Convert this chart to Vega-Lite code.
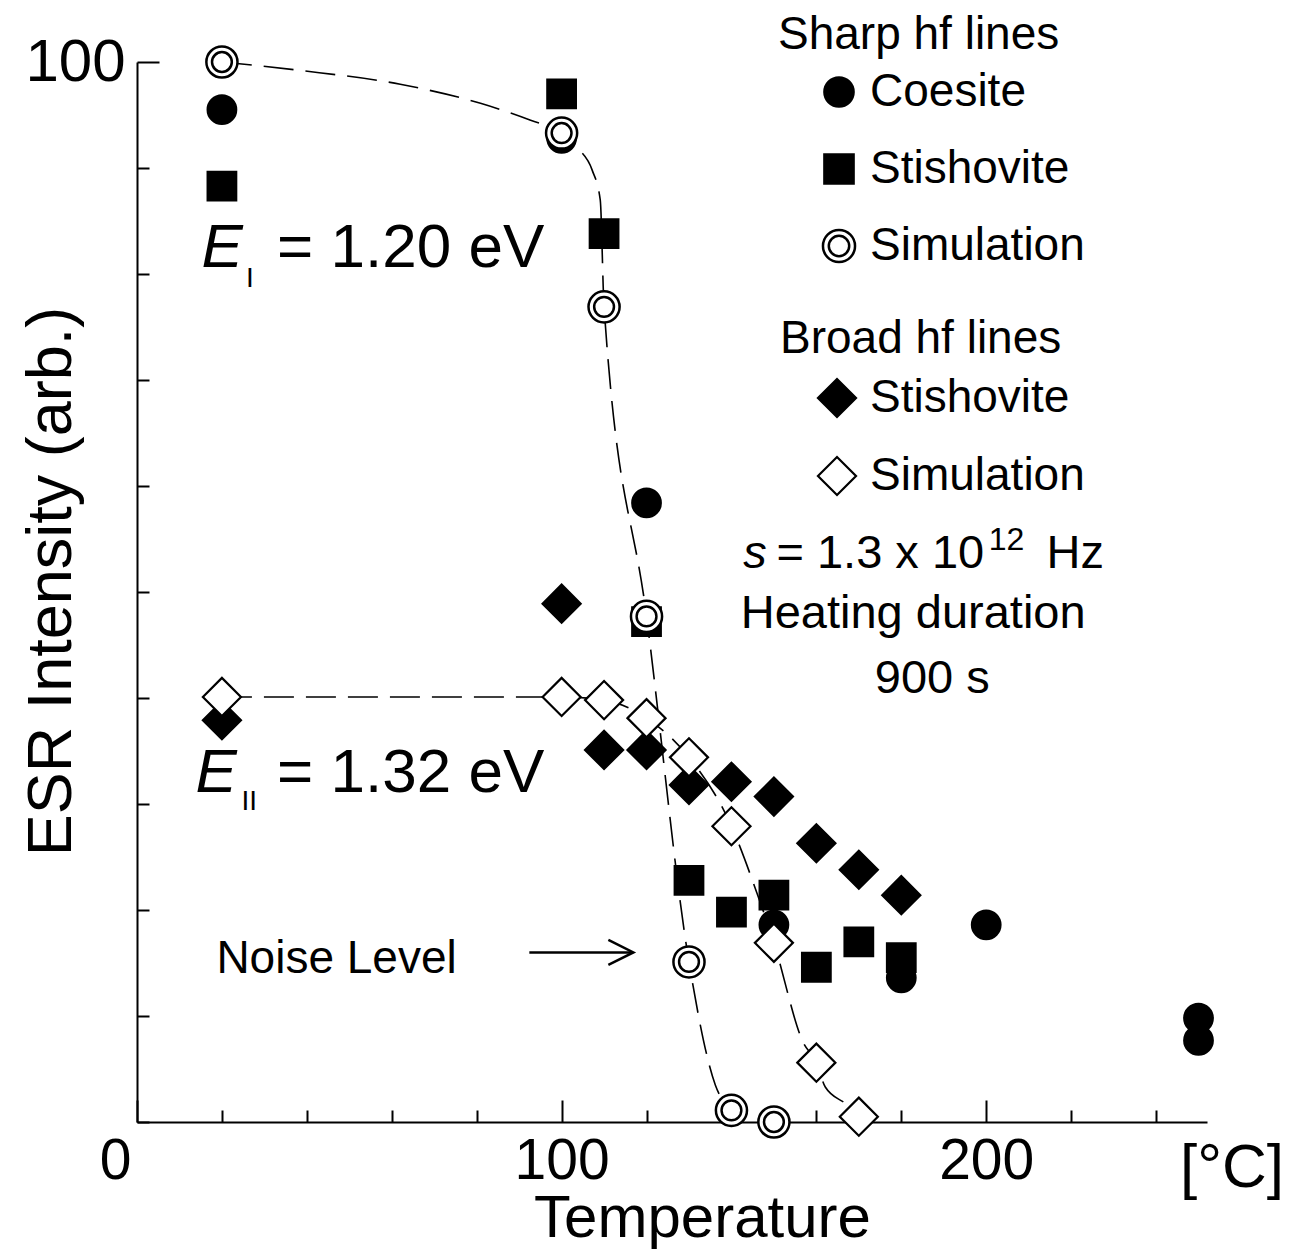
{
  "$schema": "https://vega.github.io/schema/vega-lite/v6.json",
  "width": 1070,
  "height": 1060,
  "autosize": {"type": "none"},
  "padding": {"left": 137, "top": 62, "right": 83, "bottom": 128},
  "background": "white",
  "config": {"view": {"stroke": null}, "font": "Liberation Sans"},
  "datasets": {
    "esr": [
      {"group": "Sharp", "type": "Coesite", "temp": 20, "esr": 95.5},
      {"group": "Sharp", "type": "Coesite", "temp": 100, "esr": 92.8},
      {"group": "Sharp", "type": "Coesite", "temp": 120, "esr": 58.4},
      {"group": "Sharp", "type": "Coesite", "temp": 150, "esr": 18.6},
      {"group": "Sharp", "type": "Coesite", "temp": 180, "esr": 13.6},
      {"group": "Sharp", "type": "Coesite", "temp": 200, "esr": 18.6},
      {"group": "Sharp", "type": "Coesite", "temp": 250, "esr": 9.8},
      {"group": "Sharp", "type": "Coesite", "temp": 250, "esr": 7.7},
      {"group": "Sharp", "type": "Stishovite", "temp": 20, "esr": 88.3},
      {"group": "Sharp", "type": "Stishovite", "temp": 100, "esr": 97.0},
      {"group": "Sharp", "type": "Stishovite", "temp": 110, "esr": 83.8},
      {"group": "Sharp", "type": "Stishovite", "temp": 120, "esr": 47.2},
      {"group": "Sharp", "type": "Stishovite", "temp": 130, "esr": 22.8},
      {"group": "Sharp", "type": "Stishovite", "temp": 140, "esr": 19.8},
      {"group": "Sharp", "type": "Stishovite", "temp": 150, "esr": 21.4},
      {"group": "Sharp", "type": "Stishovite", "temp": 160, "esr": 14.6},
      {"group": "Sharp", "type": "Stishovite", "temp": 170, "esr": 17.0},
      {"group": "Sharp", "type": "Stishovite", "temp": 180, "esr": 15.5},
      {"group": "Sharp", "type": "Simulation", "temp": 20, "esr": 100},
      {"group": "Sharp", "type": "Simulation", "temp": 100, "esr": 93.3},
      {"group": "Sharp", "type": "Simulation", "temp": 110, "esr": 76.9},
      {"group": "Sharp", "type": "Simulation", "temp": 120, "esr": 47.7},
      {"group": "Sharp", "type": "Simulation", "temp": 130, "esr": 15.1},
      {"group": "Sharp", "type": "Simulation", "temp": 140, "esr": 1.1},
      {"group": "Sharp", "type": "Simulation", "temp": 150, "esr": 0},
      {"group": "Broad", "type": "Stishovite", "temp": 20, "esr": 37.9},
      {"group": "Broad", "type": "Stishovite", "temp": 100, "esr": 48.9},
      {"group": "Broad", "type": "Stishovite", "temp": 110, "esr": 35.1},
      {"group": "Broad", "type": "Stishovite", "temp": 120, "esr": 35.1},
      {"group": "Broad", "type": "Stishovite", "temp": 130, "esr": 31.8},
      {"group": "Broad", "type": "Stishovite", "temp": 140, "esr": 32.1},
      {"group": "Broad", "type": "Stishovite", "temp": 150, "esr": 30.7},
      {"group": "Broad", "type": "Stishovite", "temp": 160, "esr": 26.3},
      {"group": "Broad", "type": "Stishovite", "temp": 170, "esr": 23.8},
      {"group": "Broad", "type": "Stishovite", "temp": 180, "esr": 21.4},
      {"group": "Broad", "type": "Simulation", "temp": 20, "esr": 40.1},
      {"group": "Broad", "type": "Simulation", "temp": 100, "esr": 40.1},
      {"group": "Broad", "type": "Simulation", "temp": 110, "esr": 39.8},
      {"group": "Broad", "type": "Simulation", "temp": 120, "esr": 38.1},
      {"group": "Broad", "type": "Simulation", "temp": 130, "esr": 34.4},
      {"group": "Broad", "type": "Simulation", "temp": 140, "esr": 27.9},
      {"group": "Broad", "type": "Simulation", "temp": 150, "esr": 16.9},
      {"group": "Broad", "type": "Simulation", "temp": 160, "esr": 5.6},
      {"group": "Broad", "type": "Simulation", "temp": 170, "esr": 0.5}
    ],
    "sharpCurve": [
      {"temp": 20, "esr": 100},
      {"temp": 38.5, "esr": 99.2},
      {"temp": 62, "esr": 97.9},
      {"temp": 80.9, "esr": 96.1},
      {"temp": 92.7, "esr": 94.5},
      {"temp": 100, "esr": 93.3},
      {"temp": 104, "esr": 91.8},
      {"temp": 107.2, "esr": 89.8},
      {"temp": 109.1, "esr": 87.0},
      {"temp": 110, "esr": 76.9},
      {"temp": 120, "esr": 47.7},
      {"temp": 130, "esr": 15.1},
      {"temp": 136.2, "esr": 3.5},
      {"temp": 140, "esr": 1.1}
    ],
    "broadCurve": [
      {"temp": 20, "esr": 40.1},
      {"temp": 100, "esr": 40.1},
      {"temp": 110, "esr": 39.8},
      {"temp": 120, "esr": 38.1},
      {"temp": 130, "esr": 34.4},
      {"temp": 140, "esr": 27.9},
      {"temp": 146, "esr": 21.6},
      {"temp": 150, "esr": 16.9},
      {"temp": 156.9, "esr": 7.5},
      {"temp": 160, "esr": 5.6},
      {"temp": 162.1, "esr": 3.3},
      {"temp": 167.3, "esr": 1.6},
      {"temp": 170, "esr": 0.5}
    ]
  },
  "layer": [
    {
      "data": {"name": "sharpCurve"},
      "mark": {"type": "line", "interpolate": "monotone", "stroke": "black", "strokeWidth": 1.6, "strokeDash": [30, 12]},
      "encoding": {
        "x": {
          "field": "temp", "type": "quantitative",
          "scale": {"domain": [0, 252], "nice": false, "zero": false},
          "axis": {
            "title": "Temperature", "titleFont": "Liberation Sans", "titleFontSize": 60, "titleFontWeight": "normal", "titleColor": "black",
            "titleX": 565, "titleY": 114, "titleAlign": "center", "titleBaseline": "alphabetic", "titleAnchor": null,
            "values": [0, 20, 40, 60, 80, 100, 120, 140, 160, 180, 200, 220, 240],
            "labelExpr": "datum.value % 100 === 0 ? datum.label : ''",
            "labelFont": "Liberation Sans", "labelFontSize": 57, "labelColor": "black", "labelPadding": 33,
            "labelOffset": {"condition": {"test": "datum.value === 0", "value": -22}, "value": 0},
            "labelOverlap": false, "labelFlush": false, "labelBound": false,
            "tickSize": {"condition": {"test": "datum.value % 100 === 0", "value": -22}, "value": -12},
            "tickColor": "black", "tickWidth": 2, "domainColor": "black", "domainWidth": 2, "grid": false
          }
        },
        "y": {
          "field": "esr", "type": "quantitative",
          "scale": {"domain": [0, 100], "nice": false, "zero": false},
          "axis": {
            "title": "ESR Intensity (arb.)", "titleFont": "Liberation Sans", "titleFontSize": 63, "titleFontWeight": "normal", "titleColor": "black",
            "titleX": -67, "titleY": 519, "titleAlign": "center", "titleBaseline": "alphabetic", "titleAngle": -90, "titleAnchor": null,
            "values": [0, 10, 20, 30, 40, 50, 60, 70, 80, 90, 100],
            "labelExpr": "datum.value === 100 ? '100' : ''",
            "labelFont": "Liberation Sans", "labelFontSize": 60, "labelColor": "black", "labelPadding": 34,
            "labelOverlap": false, "labelFlush": false, "labelBound": false,
            "tickSize": {"condition": {"test": "datum.value === 100", "value": -22}, "value": -12},
            "tickColor": "black", "tickWidth": 2, "domainColor": "black", "domainWidth": 2, "grid": false
          }
        }
      }
    },
    {
      "data": {"name": "broadCurve"},
      "mark": {"type": "line", "interpolate": "monotone", "stroke": "black", "strokeWidth": 1.6, "strokeDash": [30, 12]},
      "encoding": {
        "x": {"field": "temp", "type": "quantitative"},
        "y": {"field": "esr", "type": "quantitative"}
      }
    },
    {
      "data": {"name": "esr"},
      "transform": [{"filter": "datum.group === 'Sharp'"}],
      "mark": {"type": "point", "size": 800, "strokeWidth": 2.5, "opacity": 1, "fillOpacity": 1, "strokeOpacity": 1},
      "encoding": {
        "x": {"field": "temp", "type": "quantitative"},
        "y": {"field": "esr", "type": "quantitative"},
        "shape": {
          "field": "type", "type": "nominal",
          "scale": {"domain": ["Coesite", "Stishovite", "Simulation"], "range": ["circle", "square", "M1.1,0A1.1,1.1,0,1,1,-1.1,0A1.1,1.1,0,1,1,1.1,0ZM0.7,0A0.7,0.7,0,1,1,-0.7,0A0.7,0.7,0,1,1,0.7,0Z"]},
          "legend": {
            "title": "Sharp hf lines", "orient": "none", "direction": "vertical", "legendX": 641, "legendY": -49, "padding": 0,
            "titleFont": "Liberation Sans", "titleFontSize": 46, "titleFontWeight": "normal", "titleColor": "black", "titlePadding": 10, "titleLimit": 800,
            "labelFont": "Liberation Sans", "labelFontSize": 46, "labelColor": "black", "labelLimit": 800,
            "symbolSize": 850, "symbolStrokeWidth": 2.5, "symbolStrokeColor": "black", "symbolOffset": 38, "labelOffset": 8, "rowPadding": 31
          }
        },
        "fill": {
          "field": "type", "type": "nominal",
          "scale": {"domain": ["Coesite", "Stishovite", "Simulation"], "range": ["black", "black", "white"]},
          "legend": {
            "title": "Sharp hf lines", "orient": "none", "direction": "vertical", "legendX": 641, "legendY": -49, "padding": 0,
            "titleFont": "Liberation Sans", "titleFontSize": 46, "titleFontWeight": "normal", "titleColor": "black", "titlePadding": 10, "titleLimit": 800,
            "labelFont": "Liberation Sans", "labelFontSize": 46, "labelColor": "black", "labelLimit": 800,
            "symbolSize": 850, "symbolStrokeWidth": 2.5, "symbolStrokeColor": "black", "symbolOffset": 38, "labelOffset": 8, "rowPadding": 31
          }
        },
        "stroke": {
          "field": "type", "type": "nominal",
          "scale": {"domain": ["Coesite", "Stishovite", "Simulation"], "range": ["black", "black", "black"]},
          "legend": {
            "title": "Sharp hf lines", "orient": "none", "direction": "vertical", "legendX": 641, "legendY": -49, "padding": 0,
            "titleFont": "Liberation Sans", "titleFontSize": 46, "titleFontWeight": "normal", "titleColor": "black", "titlePadding": 10, "titleLimit": 800,
            "labelFont": "Liberation Sans", "labelFontSize": 46, "labelColor": "black", "labelLimit": 800,
            "symbolSize": 850, "symbolStrokeWidth": 2.5, "symbolStrokeColor": "black", "symbolOffset": 38, "labelOffset": 8, "rowPadding": 31
          }
        }
      }
    },
    {
      "data": {"name": "esr"},
      "transform": [{"filter": "datum.group === 'Broad'"}],
      "mark": {"type": "point", "size": 1450, "strokeWidth": 2.2, "opacity": 1, "fillOpacity": 1, "strokeOpacity": 1},
      "encoding": {
        "x": {"field": "temp", "type": "quantitative"},
        "y": {"field": "esr", "type": "quantitative"},
        "shape": {
          "field": "type", "type": "nominal",
          "scale": {"domain": ["Stishovite", "Simulation"], "range": ["diamond", "diamond"]},
          "legend": {
            "title": "Broad hf lines", "orient": "none", "direction": "vertical", "legendX": 643, "legendY": 255, "padding": 0,
            "titleFont": "Liberation Sans", "titleFontSize": 46, "titleFontWeight": "normal", "titleColor": "black", "titlePadding": 12, "titleLimit": 800,
            "labelFont": "Liberation Sans", "labelFontSize": 46, "labelColor": "black", "labelLimit": 800,
            "symbolSize": 1450, "symbolStrokeWidth": 2.2, "symbolStrokeColor": "black", "symbolOffset": 34, "labelOffset": 10, "rowPadding": 30
          }
        },
        "fill": {
          "field": "type", "type": "nominal",
          "scale": {"domain": ["Stishovite", "Simulation"], "range": ["black", "white"]},
          "legend": {
            "title": "Broad hf lines", "orient": "none", "direction": "vertical", "legendX": 643, "legendY": 255, "padding": 0,
            "titleFont": "Liberation Sans", "titleFontSize": 46, "titleFontWeight": "normal", "titleColor": "black", "titlePadding": 12, "titleLimit": 800,
            "labelFont": "Liberation Sans", "labelFontSize": 46, "labelColor": "black", "labelLimit": 800,
            "symbolSize": 1450, "symbolStrokeWidth": 2.2, "symbolStrokeColor": "black", "symbolOffset": 34, "labelOffset": 10, "rowPadding": 30
          }
        },
        "stroke": {
          "field": "type", "type": "nominal",
          "scale": {"domain": ["Stishovite", "Simulation"], "range": ["black", "black"]},
          "legend": {
            "title": "Broad hf lines", "orient": "none", "direction": "vertical", "legendX": 643, "legendY": 255, "padding": 0,
            "titleFont": "Liberation Sans", "titleFontSize": 46, "titleFontWeight": "normal", "titleColor": "black", "titlePadding": 12, "titleLimit": 800,
            "labelFont": "Liberation Sans", "labelFontSize": 46, "labelColor": "black", "labelLimit": 800,
            "symbolSize": 1450, "symbolStrokeWidth": 2.2, "symbolStrokeColor": "black", "symbolOffset": 34, "labelOffset": 10, "rowPadding": 30
          }
        }
      }
    },
    {
      "data": {"values": [{"t": "E"}]},
      "mark": {"type": "text", "align": "left", "baseline": "alphabetic", "fontSize": 62, "fontStyle": "italic", "font": "Liberation Sans", "color": "black"},
      "encoding": {"x": {"datum": 15.2, "type": "quantitative"}, "y": {"datum": 80.7, "type": "quantitative"}, "text": {"field": "t"}}
    },
    {
      "data": {"values": [{"t": "I"}]},
      "mark": {"type": "text", "align": "left", "baseline": "alphabetic", "fontSize": 28, "font": "Liberation Sans", "color": "black"},
      "encoding": {"x": {"datum": 25.7, "type": "quantitative"}, "y": {"datum": 78.8, "type": "quantitative"}, "text": {"field": "t"}}
    },
    {
      "data": {"values": [{"t": "= 1.20 eV"}]},
      "mark": {"type": "text", "align": "left", "baseline": "alphabetic", "fontSize": 62, "font": "Liberation Sans", "color": "black"},
      "encoding": {"x": {"datum": 33.0, "type": "quantitative"}, "y": {"datum": 80.7, "type": "quantitative"}, "text": {"field": "t"}}
    },
    {
      "data": {"values": [{"t": "E"}]},
      "mark": {"type": "text", "align": "left", "baseline": "alphabetic", "fontSize": 62, "fontStyle": "italic", "font": "Liberation Sans", "color": "black"},
      "encoding": {"x": {"datum": 13.8, "type": "quantitative"}, "y": {"datum": 31.1, "type": "quantitative"}, "text": {"field": "t"}}
    },
    {
      "data": {"values": [{"t": "II"}]},
      "mark": {"type": "text", "align": "left", "baseline": "alphabetic", "fontSize": 28, "font": "Liberation Sans", "color": "black"},
      "encoding": {"x": {"datum": 24.6, "type": "quantitative"}, "y": {"datum": 29.4, "type": "quantitative"}, "text": {"field": "t"}}
    },
    {
      "data": {"values": [{"t": "= 1.32 eV"}]},
      "mark": {"type": "text", "align": "left", "baseline": "alphabetic", "fontSize": 62, "font": "Liberation Sans", "color": "black"},
      "encoding": {"x": {"datum": 33.0, "type": "quantitative"}, "y": {"datum": 31.1, "type": "quantitative"}, "text": {"field": "t"}}
    },
    {
      "data": {"values": [{"t": "Noise Level"}]},
      "mark": {"type": "text", "align": "left", "baseline": "alphabetic", "fontSize": 46, "font": "Liberation Sans", "color": "black"},
      "encoding": {"x": {"datum": 18.7, "type": "quantitative"}, "y": {"datum": 14.1, "type": "quantitative"}, "text": {"field": "t"}}
    },
    {
      "data": {"values": [{}]},
      "mark": {"type": "rule", "stroke": "black", "strokeWidth": 2.5},
      "encoding": {"x": {"datum": 92.4, "type": "quantitative"}, "x2": {"datum": 116.6}, "y": {"datum": 16.0, "type": "quantitative"}}
    },
    {
      "data": {"values": [{}]},
      "mark": {"type": "point", "shape": "M-1,-0.5L0,0L-1,0.5", "size": 2500, "filled": false, "stroke": "black", "strokeWidth": 2.5, "opacity": 1},
      "encoding": {"x": {"datum": 116.9, "type": "quantitative"}, "y": {"datum": 16.0, "type": "quantitative"}}
    },
    {
      "data": {"values": [{"t": "s"}]},
      "mark": {"type": "text", "align": "left", "baseline": "alphabetic", "fontSize": 47, "fontStyle": "italic", "font": "Liberation Sans", "color": "black"},
      "encoding": {"x": {"datum": 142.8, "type": "quantitative"}, "y": {"datum": 52.3, "type": "quantitative"}, "text": {"field": "t"}}
    },
    {
      "data": {"values": [{"t": "= 1.3 x 10"}]},
      "mark": {"type": "text", "align": "left", "baseline": "alphabetic", "fontSize": 47, "font": "Liberation Sans", "color": "black"},
      "encoding": {"x": {"datum": 150.6, "type": "quantitative"}, "y": {"datum": 52.3, "type": "quantitative"}, "text": {"field": "t"}}
    },
    {
      "data": {"values": [{"t": "12"}]},
      "mark": {"type": "text", "align": "left", "baseline": "alphabetic", "fontSize": 32, "font": "Liberation Sans", "color": "black"},
      "encoding": {"x": {"datum": 200.6, "type": "quantitative"}, "y": {"datum": 54.0, "type": "quantitative"}, "text": {"field": "t"}}
    },
    {
      "data": {"values": [{"t": "Hz"}]},
      "mark": {"type": "text", "align": "left", "baseline": "alphabetic", "fontSize": 47, "font": "Liberation Sans", "color": "black"},
      "encoding": {"x": {"datum": 214.2, "type": "quantitative"}, "y": {"datum": 52.3, "type": "quantitative"}, "text": {"field": "t"}}
    },
    {
      "data": {"values": [{"t": "Heating duration"}]},
      "mark": {"type": "text", "align": "center", "baseline": "alphabetic", "fontSize": 47, "font": "Liberation Sans", "color": "black"},
      "encoding": {"x": {"datum": 182.8, "type": "quantitative"}, "y": {"datum": 46.6, "type": "quantitative"}, "text": {"field": "t"}}
    },
    {
      "data": {"values": [{"t": "900 s"}]},
      "mark": {"type": "text", "align": "center", "baseline": "alphabetic", "fontSize": 47, "font": "Liberation Sans", "color": "black"},
      "encoding": {"x": {"datum": 187.3, "type": "quantitative"}, "y": {"datum": 40.5, "type": "quantitative"}, "text": {"field": "t"}}
    },
    {
      "data": {"values": [{"t": "[°C]"}]},
      "mark": {"type": "text", "align": "center", "baseline": "alphabetic", "fontSize": 62, "font": "Liberation Sans", "color": "black"},
      "encoding": {"x": {"datum": 257.9, "type": "quantitative"}, "y": {"datum": -6.1, "type": "quantitative"}, "text": {"field": "t"}}
    }
  ],
  "resolve": {
    "scale": {"shape": "independent", "fill": "independent", "stroke": "independent"},
    "legend": {"shape": "independent", "fill": "independent", "stroke": "independent"}
  }
}
